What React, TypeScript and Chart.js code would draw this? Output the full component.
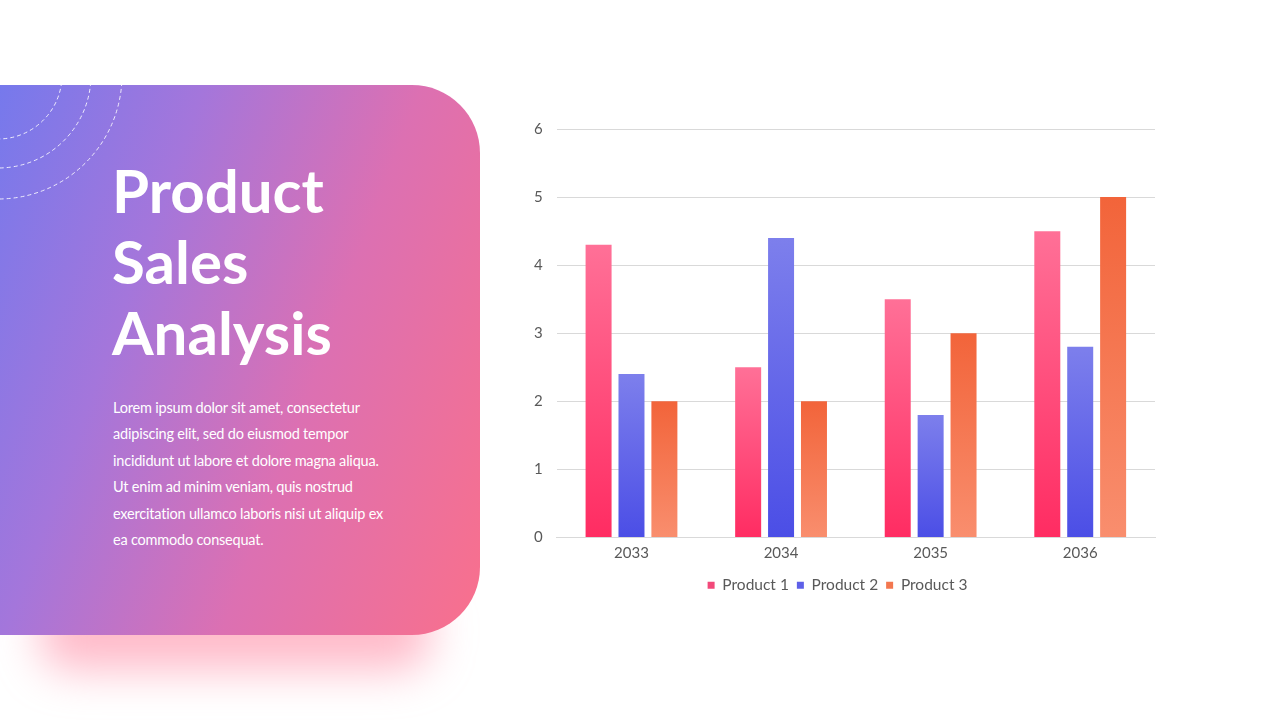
import React, { useEffect, useRef } from "react";
import { Chart, registerables } from "chart.js";

Chart.register(...registerables);

const categories = ["2033", "2034", "2035", "2036"];
const product1 = [4.3, 2.5, 3.5, 4.5];
const product2 = [2.4, 4.4, 1.8, 2.8];
const product3 = [2.0, 2.0, 3.0, 5.0];
const seriesNames = ["Product 1", "Product 2", "Product 3"];
const yTicks = [0, 1, 2, 3, 4, 5, 6];
const bodyLines = [
  "Lorem ipsum dolor sit amet, consectetur",
  "adipiscing elit, sed do eiusmod tempor",
  "incididunt ut labore et dolore magna aliqua.",
  "Ut enim ad minim veniam, quis nostrud",
  "exercitation ullamco laboris nisi ut aliquip ex",
  "ea commodo consequat.",
];

const gradStops: [string, string][] = [
  ["#FF7097", "#FF2C62"],
  ["#7D7FEC", "#4B4EE6"],
  ["#F2643A", "#F98E6E"],
];
const legendColors = ["#F2497A", "#5E60E8", "#F3774F"];

function makeGrad(idx: number) {
  return (ctx: any) => {
    const chart = ctx.chart;
    const area = chart.chartArea;
    if (!area || ctx.type !== "data") return gradStops[idx][1];
    const y = chart.scales.y;
    const v = ctx.parsed ? ctx.parsed.y : ctx.raw;
    const top = y.getPixelForValue(v);
    const bottom = y.getPixelForValue(0);
    const g = chart.ctx.createLinearGradient(0, top, 0, bottom);
    g.addColorStop(0, gradStops[idx][0]);
    g.addColorStop(1, gradStops[idx][1]);
    return g;
  };
}

function BarChart() {
  const ref = useRef<HTMLCanvasElement>(null);
  useEffect(() => {
    if (!ref.current) return;
    const data = [product1, product2, product3];
    const chart = new Chart(ref.current, {
      type: "bar",
      data: {
        labels: categories,
        datasets: data.map((d, i) => ({
          label: seriesNames[i],
          data: d,
          backgroundColor: makeGrad(i),
          borderWidth: 0,
          barPercentage: 0.79,
          categoryPercentage: 0.66,
        })),
      },
      options: {
        animation: false,
        responsive: false,
        maintainAspectRatio: false,
        layout: { padding: { top: 29, right: 25, bottom: 17, left: 20 } },
        scales: {
          x: {
            grid: { display: false, drawTicks: false },
            border: { display: true, color: "#D9D9D9", width: 1 },
            ticks: {
              color: "#595959",
              font: { family: "Lato", size: 15 },
              padding: 7,
            },
          },
          y: {
            min: 0,
            max: 6,
            afterBuildTicks: (axis: any) => {
              axis.ticks = yTicks.map((v) => ({ value: v }));
            },
            grid: { color: "#D9D9D9", drawTicks: false },
            border: { display: false },
            ticks: {
              color: "#595959",
              font: { family: "Lato", size: 15 },
              padding: 14,
            },
          },
        },
        plugins: {
          tooltip: { enabled: false },
          legend: {
            position: "bottom",
            labels: {
              boxWidth: 7,
              boxHeight: 7,
              padding: 8,
              color: "#595959",
              font: { family: "Lato", size: 15.5 },
              generateLabels: () =>
                seriesNames.map((n, i) => ({
                  text: n,
                  fillStyle: legendColors[i],
                  strokeStyle: legendColors[i],
                  fontColor: "#595959",
                  lineWidth: 0,
                  datasetIndex: i,
                  hidden: false,
                })),
            },
          },
        },
      },
    });
    return () => chart.destroy();
  }, []);
  return (
    <canvas
      ref={ref}
      width={680}
      height={520}
      style={{ position: "absolute", left: 500, top: 100, width: 680, height: 520 }}
    />
  );
}

export default function App() {
  return (
    <div
      style={{
        position: "fixed",
        left: 0,
        top: 0,
        width: 1280,
        height: 720,
        background: "#FFFFFF",
        overflow: "hidden",
        fontFamily: "Lato, sans-serif",
      }}
    >
      <div
        style={{
          position: "absolute",
          left: 40,
          top: 590,
          width: 390,
          height: 80,
          background: "rgba(255,140,165,0.6)",
          filter: "blur(22px)",
          borderRadius: 30,
        }}
      />
      <div
        style={{
          position: "absolute",
          left: 0,
          top: 85,
          width: 480,
          height: 550,
          borderRadius: "0 68px 68px 0",
          background: "linear-gradient(110deg, #7679EC 0%, #A476DB 30%, #DC70B2 62%, #F9708C 100%)",
          overflow: "hidden",
        }}
      >
        <svg width={200} height={160} style={{ position: "absolute", left: 0, top: 0 }}>
          {[64, 93, 124].map((r) => (
            <circle
              key={r}
              cx={-2}
              cy={-10}
              r={r}
              fill="none"
              stroke="rgba(255,255,255,0.85)"
              strokeWidth={1}
              strokeDasharray="4 3"
            />
          ))}
        </svg>
        <div
          style={{
            position: "absolute",
            left: 112,
            top: 70,
            color: "#FFFFFF",
            fontSize: 60,
            fontWeight: 700,
            lineHeight: "71px",
            fontFamily: "Lato, sans-serif",
          }}
        >
          Product
          <br />
          Sales
          <br />
          Analysis
        </div>
        <div
          style={{
            position: "absolute",
            left: 113,
            top: 310,
            color: "#FFFFFF",
            fontSize: 14.5,
            lineHeight: "26.4px",
            letterSpacing: -0.2,
            whiteSpace: "nowrap",
            fontFamily: "Lato, sans-serif",
          }}
        >
          {bodyLines.map((l, i) => (
            <div key={i}>{l}</div>
          ))}
        </div>
      </div>
      <BarChart />
    </div>
  );
}
